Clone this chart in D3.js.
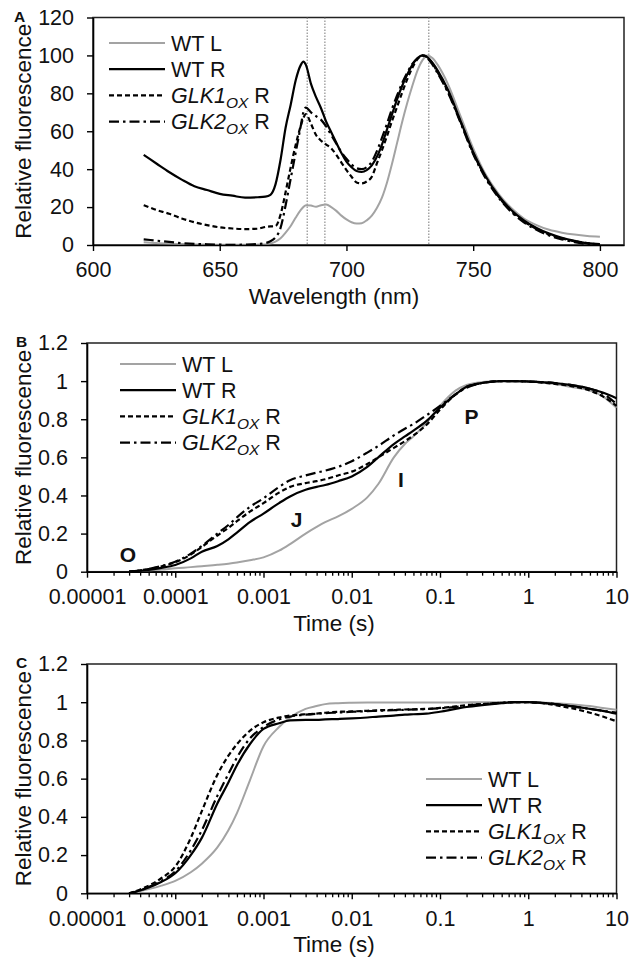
<!DOCTYPE html>
<html>
<head>
<meta charset="utf-8">
<script src="https://cdn.jsdelivr.net/npm/d3@7"></script>
<style>
  body { margin: 0; background: #fff; }
  svg { display: block; font-family: "Liberation Sans", Arial, sans-serif; }
</style>
</head>
<body>
<svg width="629" height="959"></svg>
<script>
// ---- panel A: emission spectra ----
const wavelength = [620, 625, 630, 635, 640, 645, 650, 655, 660, 665, 668, 670, 672, 674, 676, 678, 680, 682, 683, 684, 686, 688, 690, 692, 694, 696, 698, 700, 702, 704, 706, 708, 710, 712, 714, 716, 718, 720, 722, 724, 726, 728, 730, 732, 734, 736, 740, 745, 750, 755, 760, 765, 770, 775, 780, 785, 790, 795, 800];
const specWTL = [1.5, 1, 0.7, 0.5, 0.3, 0.2, 0.1, 0.1, 0.1, 0.2, 0.3, 0.8, 1.8, 3.5, 6.5, 10, 14.5, 18.5, 20, 21, 20.8, 20.2, 21, 21.3, 20, 18, 15.5, 13.5, 12, 11.3, 11.5, 13, 15.5, 19.5, 25, 33, 43, 54, 65, 75, 84, 92, 97.5, 100, 98.5, 95, 85, 68, 51, 37, 27, 19.5, 14, 10.5, 8, 6.5, 5.5, 4.8, 4.4];
const specWTR = [47.5, 43, 38.5, 34.5, 31, 29, 27, 26, 25, 25.2, 25.5, 26.5, 32, 45, 62, 74, 87, 95, 96.7, 95, 85, 78, 72, 65, 59.5, 54, 48.5, 44, 41, 39, 38.5, 39.5, 42, 46.5, 53, 61, 69, 77, 84, 90, 95, 98.5, 100, 99, 96, 92, 82, 65.5, 49, 36, 26, 18.5, 13, 9, 6, 3.8, 2.2, 1, 0.5];
const specGLK1 = [21, 18.5, 16.5, 14, 12, 10.5, 9.3, 8.7, 8.4, 8.6, 9.5, 9.8, 10, 16, 28, 41, 53, 63, 67, 69, 64, 58, 55, 53, 51, 47.5, 43.5, 39.5, 36, 33, 32.5, 33.5, 36, 43, 50, 57.5, 65.5, 73, 80.5, 87.5, 93.5, 98, 100, 99, 95.5, 91, 81, 65, 48.5, 35.5, 25.5, 18, 12.5, 8.5, 5.5, 3.5, 2, 1, 0.3];
const specGLK2 = [3, 2.3, 1.6, 1, 0.6, 0.4, 0.2, 0.1, 0.2, 0.5, 1, 2, 4, 9, 21, 35, 49, 63, 70, 72.5, 70, 68, 66, 62.5, 58, 53.5, 49, 45.5, 42.5, 40.5, 40, 41, 44, 49.5, 56.5, 64, 72, 79, 85.5, 91, 95.5, 98.5, 99.8, 98.5, 95, 90.5, 80.5, 64.5, 48, 35, 25, 17.5, 12, 8, 5, 3, 1.5, 0.5, 0];
const peakLines = [684.5, 691.5, 732.5];
const specXTicks = [600, 650, 700, 750, 800];
const specYTicks = [0, 20, 40, 60, 80, 100, 120];

// ---- panels B and C: fluorescence induction ----
const time = [3e-5, 4e-5, 5e-5, 7e-5, 1e-4, 1.5e-4, 2e-4, 3e-4, 4e-4, 5e-4, 7e-4, 1e-3, 1.5e-3, 2e-3, 3e-3, 4e-3, 5e-3, 7e-3, 1e-2, 1.5e-2, 2e-2, 3e-2, 4e-2, 5e-2, 7e-2, 0.1, 0.15, 0.2, 0.3, 0.5, 0.7, 1, 2, 3, 5, 7, 10];
const bWTL = [0, 0.003, 0.006, 0.011, 0.018, 0.024, 0.029, 0.036, 0.042, 0.048, 0.06, 0.075, 0.11, 0.145, 0.2, 0.235, 0.26, 0.29, 0.33, 0.39, 0.46, 0.6, 0.67, 0.71, 0.78, 0.87, 0.95, 0.98, 0.995, 1, 1, 0.998, 0.985, 0.97, 0.95, 0.92, 0.86];
const bWTR = [0, 0.005, 0.01, 0.02, 0.035, 0.07, 0.105, 0.135, 0.17, 0.205, 0.26, 0.305, 0.36, 0.395, 0.43, 0.445, 0.455, 0.475, 0.5, 0.55, 0.6, 0.67, 0.71, 0.74, 0.79, 0.86, 0.93, 0.97, 0.99, 1, 1, 0.998, 0.99, 0.98, 0.96, 0.94, 0.91];
const bGLK1 = [0, 0.007, 0.014, 0.028, 0.05, 0.09, 0.13, 0.19, 0.23, 0.265, 0.315, 0.36, 0.415, 0.445, 0.465, 0.475, 0.485, 0.505, 0.525, 0.565, 0.6, 0.65, 0.685, 0.715, 0.77, 0.85, 0.93, 0.97, 0.99, 1, 1, 0.998, 0.985, 0.975, 0.95, 0.92, 0.87];
const bGLK2 = [0, 0.007, 0.015, 0.03, 0.052, 0.095, 0.135, 0.2, 0.245, 0.285, 0.34, 0.385, 0.445, 0.48, 0.505, 0.52, 0.53, 0.55, 0.58, 0.625, 0.66, 0.715, 0.75, 0.775, 0.82, 0.87, 0.93, 0.965, 0.99, 1, 1, 0.998, 0.99, 0.98, 0.96, 0.935, 0.88];
const cWTL = [0, 0.012, 0.022, 0.04, 0.065, 0.11, 0.155, 0.24, 0.33, 0.42, 0.59, 0.77, 0.87, 0.92, 0.965, 0.98, 0.99, 0.995, 0.997, 0.998, 0.998, 0.998, 0.998, 0.998, 0.998, 0.998, 0.998, 0.999, 1, 1, 1, 1, 0.995, 0.99, 0.98, 0.97, 0.96];
const cWTR = [0, 0.015, 0.03, 0.06, 0.105, 0.2, 0.29, 0.47, 0.58, 0.67, 0.78, 0.86, 0.89, 0.905, 0.908, 0.908, 0.91, 0.912, 0.915, 0.92, 0.925, 0.93, 0.935, 0.937, 0.94, 0.95, 0.965, 0.975, 0.985, 0.995, 1, 1, 0.99, 0.98, 0.965, 0.955, 0.94];
const cGLK1 = [0, 0.02, 0.04, 0.08, 0.14, 0.29, 0.43, 0.62, 0.72, 0.78, 0.85, 0.895, 0.92, 0.93, 0.937, 0.94, 0.945, 0.95, 0.952, 0.955, 0.958, 0.96, 0.962, 0.963, 0.965, 0.97, 0.978, 0.985, 0.99, 0.997, 1, 1, 0.985, 0.97, 0.945, 0.925, 0.9];
const cGLK2 = [0, 0.016, 0.033, 0.065, 0.115, 0.225, 0.33, 0.51, 0.625, 0.71, 0.81, 0.87, 0.91, 0.925, 0.935, 0.94, 0.943, 0.946, 0.95, 0.953, 0.955, 0.958, 0.96, 0.962, 0.964, 0.968, 0.975, 0.982, 0.99, 0.997, 1, 1, 0.99, 0.98, 0.965, 0.955, 0.945];
const timeTicks = [1e-5, 1e-4, 1e-3, 1e-2, 1e-1, 1, 10];
const timeTickLabels = ["0.00001", "0.0001", "0.001", "0.01", "0.1", "1", "10"];
const relTicks = [0, 0.2, 0.4, 0.6, 0.8, 1, 1.2];
const relTickLabels = ["0", "0.2", "0.4", "0.6", "0.8", "1", "1.2"];

// OJIP step labels (time, relative fluorescence)
const ojipLabels = ["O", "J", "I", "P"];
const ojipT = [2.9e-5, 2.37e-3, 0.036, 0.228];
const ojipV = [0.09, 0.276, 0.486, 0.816];

const legendNames = ["WT L", "WT R", "GLK1", "GLK2"];
const lineStyles = [
  { stroke: "#a3a3a3", dash: null },
  { stroke: "#000", dash: null },
  { stroke: "#000", dash: "5,3" },
  { stroke: "#000", dash: "10,4,2.5,4" }
];

const svg = d3.select("svg");
const fontTick = 21.5;
const titleX = 334;

const drawPanel = (p) => {
  const g = svg.append("g");
  const [x0, x1] = p.x.range();
  const [y0, y1] = p.y.range();

  // plot frame
  g.append("rect")
    .attr("x", x0).attr("y", y1)
    .attr("width", x1 - x0).attr("height", y0 - y1)
    .attr("fill", "none").attr("stroke", "#222").attr("stroke-width", 1.5);

  if (p.vlines) {
    g.selectAll(".vline").data(p.vlines).join("line")
      .attr("x1", (d) => p.x(d)).attr("x2", (d) => p.x(d))
      .attr("y1", y1).attr("y2", y0)
      .attr("stroke", "#777").attr("stroke-width", 1)
      .attr("stroke-dasharray", "1.5,1.5");
  }

  const line = d3.line()
    .x((d) => p.x(d[0]))
    .y((d) => p.y(d[1]))
    .curve(d3.curveMonotoneX);

  // draw WT L first so black lines sit on top
  p.series.forEach((vals, i) => {
    const st = lineStyles[i];
    g.append("path")
      .datum(p.xs.map((xv, j) => [xv, vals[j]]))
      .attr("d", line)
      .attr("fill", "none")
      .attr("stroke", st.stroke)
      .attr("stroke-width", i === 0 ? 2 : 2.2)
      .attr("stroke-dasharray", st.dash);
  });

  // y axis
  const yAxis = g.append("g")
    .attr("transform", `translate(${x0},0)`)
    .call(d3.axisLeft(p.y).tickValues(p.yTicks)
      .tickFormat((d, i) => p.yLabels[i]).tickSize(6).tickSizeOuter(0).tickPadding(13));

  // x axis
  const xAxis = g.append("g")
    .attr("transform", `translate(0,${y0})`)
    .call(d3.axisBottom(p.x).tickValues(p.xTicks)
      .tickFormat((d, i) => p.xLabels[i]).tickSize(6).tickSizeOuter(0).tickPadding(11));

  if (p.minor) {
    g.append("g")
      .attr("transform", `translate(0,${y0})`)
      .call(d3.axisBottom(p.x).tickValues(p.minor).tickFormat("").tickSize(4).tickSizeOuter(0))
      .call((a) => a.select(".domain").remove())
      .selectAll("line").attr("stroke", "#000").attr("stroke-width", 1.3);
  }

  [yAxis, xAxis].forEach((a) => {
    a.attr("font-size", fontTick).attr("font-family", null);
    a.select(".domain").attr("stroke", "#000").attr("stroke-width", 1.6);
    a.selectAll(".tick line").attr("stroke", "#000").attr("stroke-width", 1.4);
    a.selectAll(".tick text").attr("fill", "#111");
  });

  // axis titles
  g.append("text")
    .attr("x", titleX).attr("y", y0 + 59)
    .attr("text-anchor", "middle")
    .attr("font-size", 22.5).attr("fill", "#111")
    .text(p.xTitle);

  g.append("text")
    .attr("transform", `translate(31,${(y0 + y1) / 2}) rotate(-90)`)
    .attr("text-anchor", "middle")
    .attr("font-size", 22.5).attr("fill", "#111")
    .text("Relative fluorescence");

  // panel letter
  g.append("text")
    .attr("x", p.letterX).attr("y", y1 + 4)
    .attr("font-size", 15.5).attr("font-weight", "bold").attr("fill", "#111")
    .text(p.letter);

  // legend
  const leg = g.append("g");
  legendNames.forEach((name, i) => {
    const ly = p.legendY + i * 26.2;
    const st = lineStyles[i];
    leg.append("line")
      .attr("x1", p.legendX).attr("x2", p.legendX + 56)
      .attr("y1", ly).attr("y2", ly)
      .attr("stroke", st.stroke).attr("stroke-width", 2.2)
      .attr("stroke-dasharray", st.dash);
    const t = leg.append("text")
      .attr("x", p.legendX + 62).attr("y", ly + 7.8)
      .attr("font-size", fontTick).attr("fill", "#111");
    if (name.startsWith("GLK")) {
      t.append("tspan").attr("font-style", "italic").text(name);
      t.append("tspan").attr("font-style", "italic").attr("font-size", 15.5)
        .attr("dy", 5).text("OX");
      t.append("tspan").attr("dy", -5).text(" R");
    } else {
      t.text(name);
    }
  });

  return g;
};

// panel A
const xA = d3.scaleLinear().domain([600, 809.5]).range([93, 624]);
const yA = d3.scaleLinear().domain([0, 120]).range([245, 17.5]);
drawPanel({
  x: xA, y: yA, xs: wavelength,
  series: [specWTL, specWTR, specGLK1, specGLK2],
  xTicks: specXTicks, xLabels: specXTicks.map(String),
  yTicks: specYTicks, yLabels: specYTicks.map(String),
  vlines: peakLines,
  xTitle: "Wavelength (nm)", letter: "A", letterX: 14,
  legendX: 109, legendY: 43
});

// minor log ticks
const minorTime = [];
timeTicks.slice(0, -1).forEach((dec) => {
  d3.range(2, 10).forEach((k) => minorTime.push(dec * k));
});

// panel B
const xB = d3.scaleLog().domain([1e-5, 10]).range([87, 616.5]);
const yB = d3.scaleLinear().domain([0, 1.2]).range([571.7, 343]);
const gB = drawPanel({
  x: xB, y: yB, xs: time,
  series: [bWTL, bWTR, bGLK1, bGLK2],
  xTicks: timeTicks, xLabels: timeTickLabels, minor: minorTime,
  yTicks: relTicks, yLabels: relTickLabels,
  xTitle: "Time (s)", letter: "B", letterX: 16,
  legendX: 120, legendY: 364
});

gB.selectAll(".ojip").data(ojipLabels).join("text")
  .attr("class", "ojip")
  .attr("x", (d, i) => xB(ojipT[i]))
  .attr("y", (d, i) => yB(ojipV[i]))
  .attr("dy", "0.36em")
  .attr("text-anchor", "middle")
  .attr("font-size", 21).attr("font-weight", "bold").attr("fill", "#111")
  .text((d) => d);

// panel C
const xC = d3.scaleLog().domain([1e-5, 10]).range([87, 616.5]);
const yC = d3.scaleLinear().domain([0, 1.2]).range([893.3, 664]);
drawPanel({
  x: xC, y: yC, xs: time,
  series: [cWTL, cWTR, cGLK1, cGLK2],
  xTicks: timeTicks, xLabels: timeTickLabels, minor: minorTime,
  yTicks: relTicks, yLabels: relTickLabels,
  xTitle: "Time (s)", letter: "C", letterX: 16,
  legendX: 426, legendY: 779
});
</script>
</body>
</html>
